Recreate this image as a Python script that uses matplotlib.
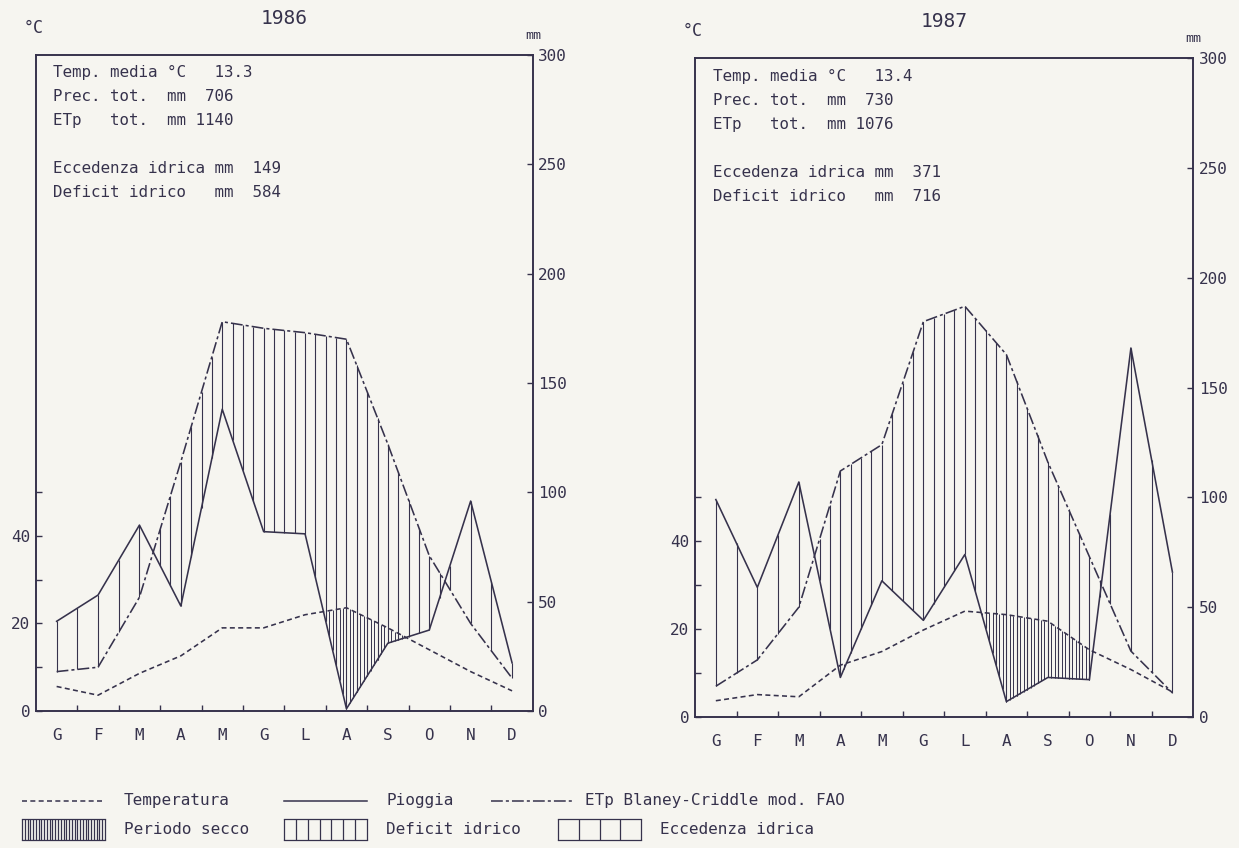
import matplotlib
matplotlib.use("Agg")
import matplotlib.pyplot as plt
import numpy as np

# ---- data (mm for rain / ETp, degC for temperature)
months = ["G", "F", "M", "A", "M", "G", "L", "A", "S", "O", "N", "D"]

temp_1986 = [5.6, 3.6, 8.6, 12.6, 19.0, 19.0, 22.0, 23.6, 19.0, 14.0, 9.0, 4.6]
rain_1986 = [41, 53, 85, 48, 138, 82, 81, 1, 31, 37, 96, 22]
etp_1986 = [18, 20, 52, 114, 178, 175, 173, 170, 122, 71, 40, 15]

temp_1987 = [3.7, 5.1, 4.6, 11.8, 14.9, 19.8, 24.1, 23.3, 21.8, 15.3, 10.8, 5.7]
rain_1987 = [99, 59, 107, 18, 62, 44, 74, 7, 18, 17, 168, 66]
etp_1987 = [14, 26, 50, 112, 124, 180, 187, 165, 116, 73, 30, 11]

info_1986 = ["Temp. media °C   13.3",
             "Prec. tot.  mm  706",
             "ETp   tot.  mm 1140",
             "",
             "Eccedenza idrica mm  149",
             "Deficit idrico   mm  584"]
info_1987 = ["Temp. media °C   13.4",
             "Prec. tot.  mm  730",
             "ETp   tot.  mm 1076",
             "",
             "Eccedenza idrica mm  371",
             "Deficit idrico   mm  716"]

MM_PER_C = 2  # Bagnouls-Gaussen scale: 1 degC = 2 mm
PAPER = "#f6f5f0"
INK = "#36324c"
T_DASH = (0, (3.6, 2.4))
ETP_DASH = (0, (8.5, 2.2, 2.2, 2.2))

plt.rcParams["font.family"] = ["DejaVu Sans Mono"]
plt.rcParams["lines.scale_dashes"] = False
plt.rcParams["text.color"] = INK


def hatch(ax, x, top, bottom, n_per_month, lw=0.8):
    xs = np.linspace(x[0], x[-1], int((x[-1] - x[0]) * n_per_month) + 1)
    t = np.interp(xs, x, top)
    b = np.interp(xs, x, bottom)
    m = t > b
    ax.vlines(xs[m], b[m], t[m], color=INK, lw=lw)


def panel(rect, year, temp, rain, etp, info):
    x = np.arange(len(months))
    axT = fig.add_axes(rect)
    axT.set_facecolor(PAPER)
    axP = axT.twinx()

    axT.set_xlim(-0.5, 11.5)
    axT.set_ylim(0, 300 / MM_PER_C)
    axP.set_ylim(0, 300)

    temp_mm = np.array(temp) * MM_PER_C
    # water surplus / deficit / dry period
    hatch(axP, x, rain, etp, 2)
    hatch(axP, x, etp, rain, 4)
    hatch(axP, x, temp_mm, rain, 12, lw=0.7)

    axT.plot(x, temp, color=INK, lw=1.15, linestyle=T_DASH)
    axP.plot(x, rain, color=INK, lw=1.15)
    axP.plot(x, etp, color=INK, lw=1.15, linestyle=ETP_DASH)

    axT.set_xticks(x)
    axT.set_xticklabels(months)
    axT.set_xticks(np.arange(0.5, 11, 1), minor=True)
    axT.tick_params(axis="x", which="major", length=0, pad=12,
                    labelsize=11.5, colors=INK)
    axT.tick_params(axis="x", which="minor", direction="in", length=4,
                    width=1, colors=INK)
    axT.set_yticks(range(0, 51, 10))
    axT.set_yticklabels(["0", "", "20", "", "40", ""])
    axT.tick_params(axis="y", direction="in", length=4, width=1, pad=4,
                    labelsize=11.5, colors=INK)
    axP.set_yticks(range(0, 301, 50))
    axP.tick_params(axis="y", direction="in", length=4, width=1, pad=4,
                    labelsize=11.5, colors=INK)
    for a in (axT, axP):
        for s in a.spines.values():
            s.set_color(INK)
            s.set_linewidth(1.2)

    axT.text(0.5, 1.055, str(year), transform=axT.transAxes, ha="center",
             va="center", fontsize=14)
    axT.text(-0.005, 1.041, "°C", transform=axT.transAxes, ha="center",
             va="center", fontsize=12)
    axT.text(1.0, 1.029, "mm", transform=axT.transAxes, ha="center",
             va="center", fontsize=9.5)
    for i, line in enumerate(info):
        axT.text(0.035, 0.9726 - i * 0.0366, line, transform=axT.transAxes,
                 ha="left", va="center", fontsize=11.4)


fig = plt.figure(figsize=(12.39, 8.48), dpi=100, facecolor=PAPER)
panel([0.029, 0.1616, 0.401, 0.7736], 1986, temp_1986, rain_1986, etp_1986, info_1986)
panel([0.561, 0.1545, 0.402, 0.777], 1987, temp_1987, rain_1987, etp_1987, info_1987)

# ---- hand-drawn style legend at the bottom (pixel coordinates)
lg = fig.add_axes([0, 0, 1, 1], zorder=-1)
lg.set_xlim(0, 1239)
lg.set_ylim(848, 0)
lg.axis("off")
lg.patch.set_visible(False)

r1, r2 = 801, 829
lg.plot([22, 102], [r1, r1], color=INK, lw=1.1, linestyle=T_DASH)
lg.plot([284, 367], [r1, r1], color=INK, lw=1.1)
lg.plot([491, 574], [r1, r1], color=INK, lw=1.1, linestyle=ETP_DASH)
for xt, s in [(124, "Temperatura"), (386, "Pioggia"),
              (585, "ETp Blaney-Criddle mod. FAO")]:
    lg.text(xt, r1, s, ha="left", va="center", fontsize=11.5)

boxes = [(22, 105, 30, "Periodo secco", 124),
         (284, 367, 7, "Deficit idrico", 386),
         (558, 641, 4, "Eccedenza idrica", 660)]
for x0, x1, ncell, label, xt in boxes:
    xs = np.linspace(x0, x1, ncell + 1)
    lg.vlines(xs, r2 - 10, r2 + 11, color=INK, lw=0.9)
    lg.plot([x0, x1], [r2 - 10, r2 - 10], color=INK, lw=0.9)
    lg.plot([x0, x1], [r2 + 11, r2 + 11], color=INK, lw=0.9)
    lg.text(xt, r2 + 1, label, ha="left", va="center", fontsize=11.5)

fig.savefig("out.png", dpi=100, facecolor=PAPER)
